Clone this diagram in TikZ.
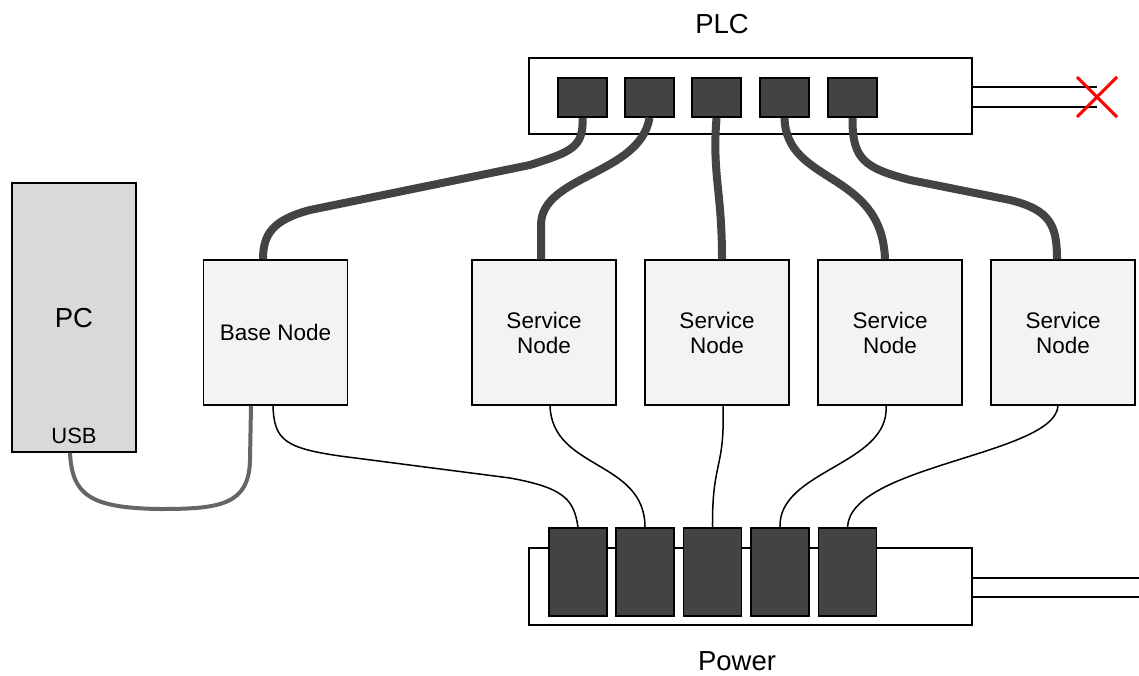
\documentclass[tikz,border=0pt]{standalone}
\usepackage{fontspec}
\setmainfont{Liberation Sans}
\usetikzlibrary{calc}
\definecolor{portgray}{HTML}{434343}
\definecolor{nodefill}{HTML}{F3F3F3}
\definecolor{pcfill}{HTML}{D9D9D9}
\definecolor{usbgray}{HTML}{666666}
\definecolor{xred}{HTML}{FF0000}
\begin{document}
\begin{tikzpicture}[x=1pt,y=-1pt,
  nodebox/.style={draw=black, line width=1.5pt, fill=nodefill, minimum width=144pt, minimum height=145pt, inner sep=0pt, align=center, font=\fontsize{22.5}{25}\selectfont},
  strip/.style={draw=black, line width=1.5pt, fill=white, inner sep=0pt},
  plcport/.style={draw=black, line width=1.5pt, fill=portgray, minimum width=49pt, minimum height=39pt, inner sep=0pt},
  powport/.style={draw=black, line width=1.5pt, fill=portgray, minimum width=58pt, minimum height=88pt, inner sep=0pt},
  thick cable/.style={draw=portgray, line width=8pt},
  thin cable/.style={draw=black, line width=1.5pt},
  usb cable/.style={draw=usbgray, line width=4pt},
  wire/.style={draw=black, line width=2.5pt},
  biglabel/.style={font=\fontsize{27.5}{30}\selectfont, inner sep=0pt},
  smalllabel/.style={font=\fontsize{22}{25}\selectfont, inner sep=0pt}]
\useasboundingbox (0,0) rectangle (1139,675);

% PLC
\node[biglabel, anchor=base] (plclabel) at (722,33) {PLC};
\node[strip, minimum width=443pt, minimum height=76pt] (plc) at (750.5,96) {};
\coordinate (plcw1) at (1097,87);
\coordinate (plcw2) at (1097,107);
\draw[wire] (plc.east |- plcw1) -- (plcw1);
\draw[wire] (plc.east |- plcw2) -- (plcw2);
\coordinate (xc) at (1097,97);
\draw[xred, line width=3pt] ($(xc)+(-20,-20)$) -- ($(xc)+(20,20)$);
\draw[xred, line width=3pt] ($(xc)+(-20,20)$) -- ($(xc)+(20,-20)$);
\node[plcport] (p1) at (582.5,97.5) {};
\node[plcport] (p2) at (649.5,97.5) {};
\node[plcport] (p3) at (716.5,97.5) {};
\node[plcport] (p4) at (784.5,97.5) {};
\node[plcport] (p5) at (852.5,97.5) {};

% Power
\node[biglabel, anchor=base] (powlabel) at (737,670) {Power};
\node[strip, minimum width=443pt, minimum height=77pt] (pow) at (750.5,586.5) {};
\coordinate (poww1) at (1139,578);
\coordinate (poww2) at (1139,597);
\draw[wire] (pow.east |- poww1) -- (poww1);
\draw[wire] (pow.east |- poww2) -- (poww2);
\node[powport] (s1) at (578,572) {};
\node[powport] (s2) at (645,572) {};
\node[powport] (s3) at (712.5,572) {};
\node[powport] (s4) at (780,572) {};
\node[powport] (s5) at (847.5,572) {};

% PC
\node[draw=black, line width=1.5pt, fill=pcfill, minimum width=124pt, minimum height=269pt, inner sep=0pt] (pc) at (74,317.5) {};
\node[biglabel] (pclabel) at (74,318) {PC};
\node[smalllabel] (usblabel) at (74,436) {USB};

% Nodes
\node[nodebox] (base) at (275.5,332.5) {Base Node};
\node[nodebox] (n1) at (544,332.5) {Service\\Node};
\node[nodebox] (n2) at (717,332.5) {Service\\Node};
\node[nodebox] (n3) at (890,332.5) {Service\\Node};
\node[nodebox] (n4) at (1063,332.5) {Service\\Node};

% thick cables PLC -> nodes
\draw[thick cable] (p1.south) .. controls (584,148) and (570,152) .. (530,165) -- (310,210) .. controls (272,220) and (263,235) .. (263,0 |- base.north);
\draw[thick cable] (p2.south) .. controls (640,175) and (541,175) .. (541,225) -- (541,0 |- n1.north);
\draw[thick cable] (p3.south) .. controls (712,175) and (722,190) .. (722,0 |- n2.north);
\draw[thick cable] (p4.south) .. controls (786,185) and (882,170) .. (885,0 |- n3.north);
\draw[thick cable] (p5.south) .. controls (852,160) and (865,168) .. (910,180) -- (1010,200) .. controls (1050,210) and (1057,225) .. (1057,0 |- n4.north);

% thin cables nodes -> power
\draw[thin cable] (273,0 |- base.south) .. controls (274,440) and (285,448) .. (340,456) -- (510,478) .. controls (565,488) and (574,500) .. (s1.north);
\draw[thin cable] (550,0 |- n1.south) .. controls (552,470) and (645,460) .. (s2.north);
\draw[thin cable] (723,0 |- n2.south) .. controls (725,470) and (712,460) .. (s3.north);
\draw[thin cable] (886,0 |- n3.south) .. controls (890,465) and (778,470) .. (s4.north);
\draw[thin cable] (1058,0 |- n4.south) .. controls (1055,455) and (850,465) .. (s5.north);

% USB cable
\draw[usb cable] (251,0 |- base.south) -- (250,460) .. controls (249,505) and (220,509) .. (160,509) .. controls (90,508) and (72,495) .. (70,0 |- pc.south);
\end{tikzpicture}
\end{document}
